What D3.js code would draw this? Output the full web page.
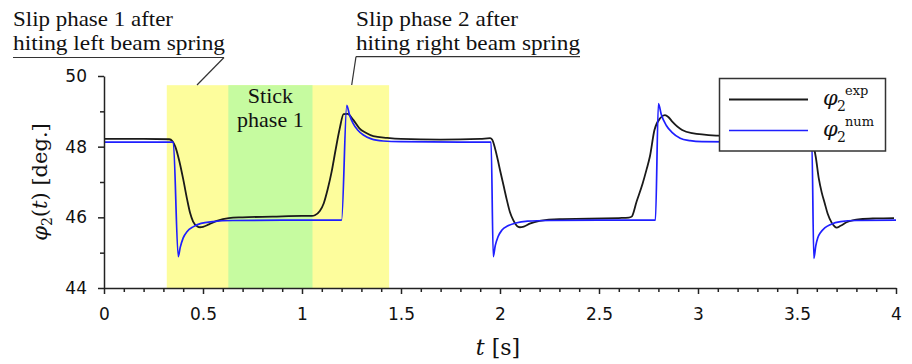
<!DOCTYPE html>
<html>
<head>
<meta charset="utf-8">
<script src="https://cdn.jsdelivr.net/npm/d3@7"></script>
<style>
  html, body { margin: 0; padding: 0; background: #fff; }
  svg { display: block; }
  .serif { font-family: "Liberation Serif", "Times New Roman", serif; }
  .math { font-family: "DejaVu Serif", serif; }
  .tick text { font-family: "DejaVu Sans", sans-serif; font-size: 17px; fill: #111; }
</style>
</head>
<body>
<svg id="chart" width="912" height="364"></svg>
<script>
// ---- data ----
const xTickValues = [0, 0.5, 1, 1.5, 2, 2.5, 3, 3.5, 4];
const xTickLabels = ["0", "0.5", "1", "1.5", "2", "2.5", "3", "3.5", "4"];
const yTickValues = [44, 46, 48, 50];
const yTickLabels = ["44", "46", "48", "50"];
const yMinorTicks = [45, 47, 49];

// shaded phases [start, end]
const slipPhase1 = [0.317, 1.44];
const stickPhase1 = [0.628, 1.053];

// experimental response phi2^exp
const expT = [0, 0.2, 0.33, 0.345, 0.36, 0.38, 0.40, 0.42, 0.435, 0.45, 0.47, 0.485, 0.50, 0.53, 0.57, 0.63, 0.70, 0.85, 1.0, 1.05,
  1.065, 1.09, 1.11, 1.13, 1.15, 1.17, 1.19, 1.21, 1.23, 1.26, 1.29, 1.32, 1.36, 1.43, 1.5, 1.7, 1.9, 1.95,
  1.96, 1.975, 1.99, 2.0, 2.02, 2.035, 2.05, 2.067, 2.085, 2.10, 2.12, 2.15, 2.2, 2.3, 2.45, 2.6, 2.65,
  2.665, 2.69, 2.72, 2.74, 2.757, 2.78, 2.81, 2.833, 2.85, 2.87, 2.92, 2.97, 3.1, 3.3, 3.5, 3.565,
  3.58, 3.595, 3.61, 3.625, 3.64, 3.655, 3.675, 3.69, 3.70, 3.72, 3.75, 3.82, 3.9, 3.99];
const expV = [48.22, 48.22, 48.21, 48.16, 48.0, 47.6, 47.08, 46.5, 46.12, 45.88, 45.75, 45.72, 45.73, 45.8, 45.9, 45.98, 46.0, 46.02, 46.04, 46.04,
  46.06, 46.18, 46.4, 46.8, 47.3, 47.92, 48.5, 48.92, 48.93, 48.75, 48.52, 48.4, 48.3, 48.25, 48.22, 48.2, 48.22, 48.24,
  48.2, 47.95, 47.6, 47.34, 46.85, 46.48, 46.15, 45.92, 45.76, 45.72, 45.74, 45.82, 45.9, 45.95, 45.96, 45.98, 45.99,
  46.02, 46.45, 46.95, 47.35, 47.72, 48.47, 48.81, 48.89, 48.84, 48.71, 48.47, 48.38, 48.31, 48.28, 48.27, 48.26,
  48.1, 47.7, 47.1, 46.7, 46.4, 46.1, 45.85, 45.74, 45.71, 45.76, 45.86, 45.95, 45.97, 45.98];

// numerical response phi2^num
const numT = [0, 0.35, 0.375, 0.385, 0.40, 0.42, 0.45, 0.49, 0.55, 0.65, 0.9, 1.2,
  1.226, 1.24, 1.258, 1.28, 1.31, 1.35, 1.41, 1.5, 1.8, 1.955,
  1.966, 1.976, 1.99, 2.01, 2.04, 2.08, 2.14, 2.25, 2.5, 2.785,
  2.80, 2.815, 2.84, 2.87, 2.91, 2.96, 3.02, 3.3, 3.575,
  3.585, 3.595, 3.605, 3.62, 3.64, 3.67, 3.72, 3.8, 4.0];
const numV = [48.13, 48.13, 44.89, 45.15, 45.42, 45.6, 45.73, 45.83, 45.88, 45.91, 45.92, 45.92,
  49.17, 48.9, 48.66, 48.48, 48.33, 48.22, 48.16, 48.14, 48.13, 48.13,
  44.89, 45.2, 45.45, 45.64, 45.76, 45.84, 45.89, 45.91, 45.92, 45.92,
  49.22, 48.9, 48.6, 48.4, 48.24, 48.17, 48.14, 48.13, 48.13,
  44.84, 45.2, 45.42, 45.58, 45.7, 45.8, 45.88, 45.91, 45.92];

// ---- drawing ----
const svg = d3.select("#chart");
const x = d3.scaleLinear().domain([0, 4]).range([104, 896]);
const y = d3.scaleLinear().domain([44, 50]).range([288, 76]);

// shaded regions
svg.append("rect")
  .attr("x", x(slipPhase1[0])).attr("y", y(49.74))
  .attr("width", x(slipPhase1[1]) - x(slipPhase1[0]))
  .attr("height", y(44) - y(49.74))
  .attr("fill", "#fdfd9c");
svg.append("rect")
  .attr("x", x(stickPhase1[0])).attr("y", y(49.74))
  .attr("width", x(stickPhase1[1]) - x(stickPhase1[0]))
  .attr("height", y(44) - y(49.74))
  .attr("fill", "#c6fba0");

// Stick phase label
const stick = svg.append("text").attr("class", "serif")
  .style("font-size", "22px").attr("fill", "#111")
  .attr("text-anchor", "middle");
stick.append("tspan").attr("x", x((stickPhase1[0] + stickPhase1[1]) / 2)).attr("y", 103).text("Stick");
stick.append("tspan").attr("x", x((stickPhase1[0] + stickPhase1[1]) / 2)).attr("y", 127).text("phase 1");

// lines
const line = (T) => d3.line().x((d, i) => x(T[i])).y(d => y(d)).curve(d3.curveMonotoneX);
svg.append("path").datum(expV).attr("d", line(expT))
  .attr("fill", "none").attr("stroke", "#1a1a1a").attr("stroke-width", 1.8);
svg.append("path").datum(numV).attr("d", line(numT))
  .attr("fill", "none").attr("stroke", "#1f1fff").attr("stroke-width", 1.7);

// axes
svg.append("g").attr("transform", `translate(0,${y(44)})`)
  .call(d3.axisBottom(x).tickValues(xTickValues).tickSize(6).tickSizeOuter(0).tickPadding(14)
    .tickFormat((d, i) => xTickLabels[i]));
const xMinor = svg.append("g").attr("transform", `translate(0,${y(44)})`)
  .call(d3.axisBottom(x).tickValues(d3.range(0, 40).filter(k => k % 5 !== 0).map(k => k / 10))
    .tickSize(4).tickSizeOuter(0).tickFormat(""));
xMinor.select(".domain").remove();

svg.append("g").attr("transform", `translate(${x(0)},0)`)
  .call(d3.axisLeft(y).tickValues(yTickValues).tickSize(6).tickSizeOuter(0).tickPadding(11)
    .tickFormat((d, i) => yTickLabels[i]));
const yMinor = svg.append("g").attr("transform", `translate(${x(0)},0)`)
  .call(d3.axisLeft(y).tickValues(yMinorTicks).tickSize(4).tickSizeOuter(0).tickFormat(""));
yMinor.select(".domain").remove();

svg.selectAll(".domain, .tick line").attr("stroke", "#222").attr("stroke-width", 1.5);
svg.selectAll(".tick text").attr("font-family", null).attr("font-size", null).attr("fill", "#111");

// axis titles
const xt = svg.append("text").attr("class", "math").attr("x", 498).attr("y", 355).attr("text-anchor", "middle")
  .style("font-size", "22px").attr("fill", "#111");
xt.append("tspan").style("font-style", "italic").text("t");
xt.append("tspan").text(" [s]");

const yt = svg.append("text").attr("class", "math").attr("transform", "translate(47,182) rotate(-90)")
  .attr("text-anchor", "middle").style("font-size", "21px").attr("fill", "#111");
yt.append("tspan").style("font-style", "italic").text("φ");
yt.append("tspan").style("font-size", "14px").attr("dy", 5).text("2");
yt.append("tspan").attr("dy", -5).text("(");
yt.append("tspan").style("font-style", "italic").text("t");
yt.append("tspan").text(") [deg.]");

// annotations
function annot(x0, lines, widths, ulY, ulX1, leadTo) {
  lines.forEach((s, i) => {
    svg.append("text").attr("class", "serif").attr("x", x0).attr("y", 26 + i * 24)
      .style("font-size", "22px").attr("fill", "#111")
      .attr("textLength", widths[i]).attr("lengthAdjust", "spacingAndGlyphs")
      .text(s);
  });
  svg.append("line").attr("x1", x0).attr("x2", ulX1).attr("y1", ulY).attr("y2", ulY)
    .attr("stroke", "#333").attr("stroke-width", 1.2);
  svg.append("line").attr("x1", leadTo[0]).attr("y1", leadTo[1]).attr("x2", leadTo[2]).attr("y2", leadTo[3])
    .attr("stroke", "#333").attr("stroke-width", 1.2);
}
annot(13, ["Slip phase 1 after", "hiting left beam spring"], [160, 212], 57.5, 224, [224, 57.5, 197, 85]);
annot(356, ["Slip phase 2 after", "hiting right beam spring"], [162, 224], 56.7, 580, [356, 56.7, 351.7, 85]);

// legend
const lg = svg.append("g");
lg.append("rect").attr("x", 719.5).attr("y", 78.5).attr("width", 166).attr("height", 72.5)
  .attr("fill", "#fff").attr("stroke", "#333").attr("stroke-width", 1.5);
const items = [
  { c: "#1a1a1a", w: 1.8, sup: "exp", ly: 99.5 },
  { c: "#1f1fff", w: 1.7, sup: "num", ly: 130.5 }
];
items.forEach(it => {
  lg.append("line").attr("x1", 729).attr("x2", 808).attr("y1", it.ly).attr("y2", it.ly)
    .attr("stroke", it.c).attr("stroke-width", it.w);
  lg.append("text").attr("class", "math").attr("x", 823).attr("y", it.ly + 5)
    .style("font-size", "21px").style("font-style", "italic")
    .attr("fill", "#111").text("φ");
  lg.append("text").attr("class", "math").attr("x", 837).attr("y", it.ly + 11)
    .style("font-size", "14px").attr("fill", "#111").text("2");
  lg.append("text").attr("class", "math").attr("x", 845).attr("y", it.ly - 5)
    .style("font-size", "13px").attr("fill", "#111").text(it.sup);
});
</script>
</body>
</html>
